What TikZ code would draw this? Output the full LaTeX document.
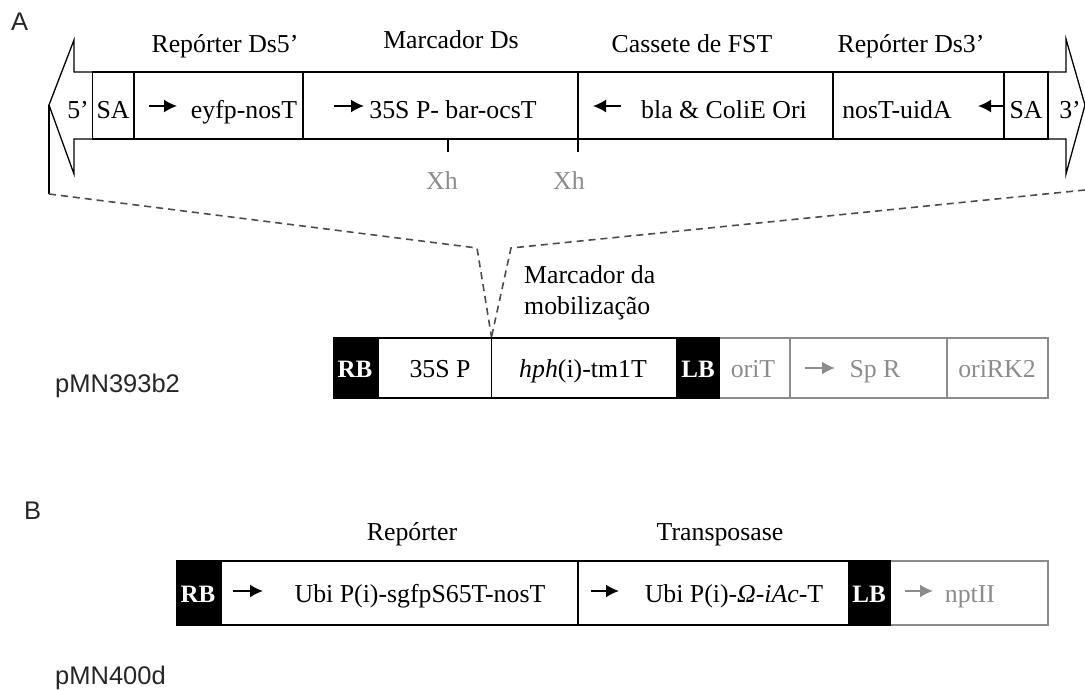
\documentclass[tikz,border=0pt]{standalone}
\usepackage{fontspec}
\setmainfont{Liberation Serif}
\newfontfamily\labfont{Liberation Sans}
\usetikzlibrary{arrows.meta}
\definecolor{gr}{gray}{0.55}
\tikzset{
 x=1pt,y=-1pt,
 box/.style={draw=black,line width=1.3pt},
 gbox/.style={draw=gr,line width=1.3pt},
 blk/.style={fill=black,draw=black,line width=1pt},
 txt/.style={anchor=base,inner sep=0pt,font=\fontsize{25.8}{30}\selectfont,text=black},
 gtxt/.style={txt,text=gr},
 wtxt/.style={txt,text=white,font=\fontsize{25}{30}\selectfont\bfseries},
 sans/.style={anchor=base west,inner sep=0pt,font=\labfont\fontsize{25.5}{30}\selectfont,text=black!85},
 ar/.style={line width=1.8pt,-{Latex[length=13pt,width=13pt]}},
 gar/.style={ar,draw=gr},
 dsh/.style={dashed,dash pattern=on 7pt off 5pt,line width=1.6pt,draw=black!70},
}
\begin{document}
\begin{tikzpicture}
\useasboundingbox (0,0) rectangle (1085,689);
% --- construct A, Ds element
\coordinate (ltip) at (49,105);
\coordinate (rtip) at (1085,105);
\draw[box,line join=miter] (92.5,72) -- (74,72) -- (74,40) -- (ltip) -- (74,174) -- (74,139) -- (106,139);
\draw[box,line join=miter] (1048,72) -- (1066,72) -- (1066,39) -- (rtip) -- (1066,174) -- (1066,139) -- (1034,139);
\draw[box] (92.5,72) rectangle (1048,139);
\foreach \xx in {134,303,578,833,1004}{\draw[box] (\xx,72) -- (\xx,139);}
\coordinate (t1a) at (448,139); \coordinate (t1b) at (448,152);
\coordinate (t2a) at (578,139); \coordinate (t2b) at (578,152);
\draw[box] (t1a) -- (t1b);
\draw[box] (t2a) -- (t2b);
\node[txt] (h1) at (225,52) {Repórter Ds5’};
\node[txt] (h2) at (451,48) {Marcador Ds};
\node[txt] (h3) at (692,52) {Cassete de FST};
\node[txt] (h4) at (911,52) {Repórter Ds3’};
\node[txt] (p5) at (78,118) {5’};
\node[txt] (sa1) at (113,118) {SA};
\node[txt] (ey) at (244,118) {eyfp-nosT};
\node[txt] (bar) at (453,118) {35S P- bar-ocsT};
\node[txt] (bla) at (724,118) {bla \& ColiE Ori};
\node[txt] (uid) at (897,118) {nosT-uidA};
\node[txt] (sa2) at (1026,118) {SA};
\node[txt] (p3) at (1070,118) {3’};
\node[gtxt] (xh1) at (442,189) {Xh};
\node[gtxt] (xh2) at (569,189) {Xh};
\coordinate (a1s) at (149,106); \coordinate (a1e) at (177,106);
\coordinate (a2s) at (334,106); \coordinate (a2e) at (364,106);
\coordinate (a3s) at (621,106); \coordinate (a3e) at (593,106);
\coordinate (a4s) at (1004,106); \coordinate (a4e) at (978,106);
\draw[ar] (a1s) -- (a1e);
\draw[ar] (a2s) -- (a2e);
\draw[ar] (a3s) -- (a3e);
\draw[ar] (a4s) -- (a4e);
% --- zoom lines
\coordinate (lc) at (49,194);
\coordinate (rc) at (1085,190);
\coordinate (lk) at (477,248);
\coordinate (rk) at (511,248);
\coordinate (ins) at (491.5,337);
\draw[box,line width=1.1pt] (ltip) -- (lc);
\draw[dsh] (lc) -- (lk) -- (ins);
\draw[dsh] (rc) -- (rk) -- (ins);
\node[txt,anchor=base west] (mm1) at (524,283) {Marcador da};
\node[txt,anchor=base west] (mm2) at (524,314) {mobilização};
% --- pMN393b2
\draw[gbox] (719,338) rectangle (1048,398);
\draw[gbox] (790,338) -- (790,398);
\draw[gbox] (947,338) -- (947,398);
\draw[box] (334,338) rectangle (719,398);
\fill[blk] (334,338) rectangle (378.5,398);
\fill[blk] (676,338) rectangle (719,398);
\draw[box] (491.5,338) -- (491.5,398);
\node[wtxt] (rb1) at (355,377) {RB};
\node[txt] (p35) at (440,377) {35S P};
\node[txt] (hph) at (583,377) {\textit{hph}(i)-tm1T};
\node[wtxt] (lb1) at (698,377) {LB};
\node[gtxt] (ort) at (753,377) {oriT};
\node[gtxt] (spr) at (875,377) {Sp R};
\node[gtxt] (ork) at (997,377) {oriRK2};
\coordinate (a5s) at (805,368); \coordinate (a5e) at (835,368);
\draw[gar] (a5s) -- (a5e);
% --- pMN400d
\draw[gbox] (890,561) rectangle (1048,625);
\draw[box] (177,561) rectangle (890,625);
\fill[blk] (177,561) rectangle (221,625);
\fill[blk] (848,561) rectangle (890,625);
\draw[box] (578,561) -- (578,625);
\node[txt] (h5) at (412,540) {Repórter};
\node[txt] (h6) at (720,540) {Transposase};
\node[wtxt] (rb2) at (198,602) {RB};
\node[txt] (ubi1) at (420,602) {Ubi P(i)-sgfpS65T-nosT};
\node[txt] (ubi2) at (734,602) {Ubi P(i)-\textit{Ω-iAc}-T};
\node[wtxt] (lb2) at (869,602) {LB};
\node[gtxt] (npt) at (970,602) {nptII};
\coordinate (a6s) at (233,591); \coordinate (a6e) at (263,591);
\coordinate (a7s) at (591,591); \coordinate (a7e) at (619,591);
\coordinate (a8s) at (905,591); \coordinate (a8e) at (933,591);
\draw[ar] (a6s) -- (a6e);
\draw[ar] (a7s) -- (a7e);
\draw[gar] (a8s) -- (a8e);
% --- labels
\node[sans] (la) at (11,30) {A};
\node[sans] (lb) at (24,519) {B};
\node[sans] (n1) at (55,392) {pMN393b2};
\node[sans] (n2) at (55,684) {pMN400d};
\end{tikzpicture}
\end{document}
